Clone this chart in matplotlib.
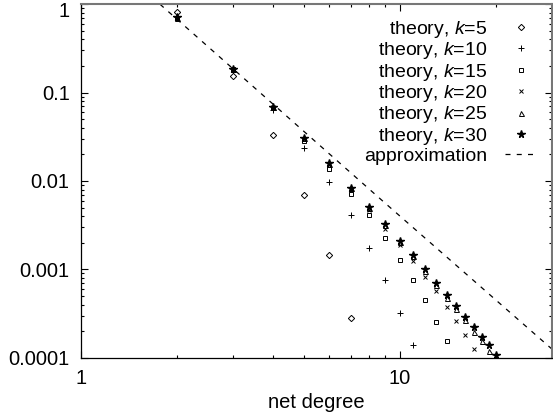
import matplotlib
matplotlib.use("Agg")
import matplotlib.pyplot as plt
import matplotlib.transforms as mtransforms
from matplotlib.ticker import LogLocator, NullFormatter, FixedLocator, FixedFormatter

plt.rcParams["font.family"] = ["Liberation Sans", "DejaVu Sans"]
plt.rcParams["mathtext.fontset"] = "custom"
plt.rcParams["mathtext.rm"] = "Liberation Sans"
plt.rcParams["mathtext.it"] = "Liberation Sans:italic"

# values (net degree -> probability)
k5_x = [2, 3, 4, 5, 6, 7]
k5_y = [0.81, 0.156, 0.033, 0.0070, 0.00144, 0.00028]
k10_x = [2, 3, 4, 5, 6, 7, 8, 9, 10, 11]
k10_y = [0.71, 0.183, 0.063, 0.0237, 0.0097, 0.0041, 0.00173, 0.00075, 0.00032, 0.00014]
k15_x = [2, 3, 4, 5, 6, 7, 8, 9, 10, 11, 12, 13, 14]
k15_y = [0.70, 0.185, 0.067, 0.028, 0.0135, 0.0071, 0.0041, 0.00224, 0.00127,
         0.00075, 0.00045, 0.000255, 0.000153]
k20_x = [2, 3, 4, 5, 6, 7, 8, 9, 10, 11, 12, 13, 14, 15, 16, 17]
k20_y = [0.70, 0.185, 0.068, 0.030, 0.0150, 0.0079, 0.0047, 0.0029, 0.0019, 0.00125,
         0.00082, 0.000566, 0.00038, 0.00026, 0.00018, 0.000127]
k25_x = [2, 3, 4, 5, 6, 7, 8, 9, 10, 11, 12, 13, 14, 15, 16, 17, 18, 19]
k25_y = [0.70, 0.185, 0.068, 0.031, 0.0156, 0.0083, 0.0050, 0.0032, 0.00205, 0.0014,
         0.00095, 0.00067, 0.00048, 0.00036, 0.00027, 0.000195, 0.000154, 0.000118]
k30_x = [2, 3, 4, 5, 6, 7, 8, 9, 10, 11, 12, 13, 14, 15, 16, 17, 18, 19, 20]
k30_y = [0.71, 0.186, 0.068, 0.031, 0.0158, 0.0084, 0.0051, 0.00325, 0.0021, 0.00145,
         0.0010, 0.000705, 0.00051, 0.000385, 0.00029, 0.000224, 0.000174, 0.00014, 0.000108]
approx_x = [1.77, 8.76, 30]
approx_y = [1.0, 0.00607, 0.000124]

fig = plt.figure(figsize=(5.53, 4.17), dpi=100)
ax = fig.add_axes([0.146, 0.142, 0.853, 0.848])

style = dict(ls="none", color="black", mfc="none", mew=0.7)
ax.plot(k5_x, k5_y, marker="D", ms=3.2, label="theory, $k$=5", **style)
ax.plot(k10_x, k10_y, marker="+", ms=4.5, label="theory, $k$=10", **style)
ax.plot(k15_x, k15_y, marker="s", ms=3.2, label="theory, $k$=15", **style)
ax.plot(k20_x, k20_y, marker="x", ms=3.5, label="theory, $k$=20", **style)
ax.plot(k25_x, k25_y, marker="^", ms=3.6, label="theory, $k$=25", **style)
ax.plot(k30_x, k30_y, ls="none", color="black", marker="*", ms=5.5,
        label="theory, $k$=30")
ax.plot(approx_x, approx_y, color="black", ls=(0, (4, 5)), lw=0.9,
        label="approximation")

ax.set_xscale("log")
ax.set_yscale("log")
ax.set_xlim(1, 30)
ax.set_ylim(0.0001, 1)

ax.xaxis.set_major_locator(FixedLocator([1, 10]))
ax.xaxis.set_major_formatter(FixedFormatter(["1", "10"]))
ax.xaxis.set_minor_locator(LogLocator(base=10, subs=range(2, 10)))
ax.xaxis.set_minor_formatter(NullFormatter())
ax.yaxis.set_major_locator(FixedLocator([0.0001, 0.001, 0.01, 0.1, 1]))
ax.yaxis.set_major_formatter(FixedFormatter(["0.0001", "0.001", "0.01", "0.1", "1"]))
ax.yaxis.set_minor_locator(LogLocator(base=10, subs=range(2, 10)))
ax.yaxis.set_minor_formatter(NullFormatter())

ax.tick_params(which="both", direction="in", top=True, right=True,
               labelsize=14.5, width=0.8, pad=8)
ax.tick_params(which="major", length=5)
ax.tick_params(which="minor", length=2.5)

# keep the top "1" label inside the figure
fig.canvas.draw()
top_label = ax.get_yticklabels()[-1]
top_label.set_transform(top_label.get_transform()
                        + mtransforms.ScaledTranslation(0, -5 / 100, fig.dpi_scale_trans))

for side in ["left", "bottom"]:
    ax.spines[side].set_linewidth(0.9)
for side in ["top", "right"]:
    ax.spines[side].set_color("#777777")
    ax.spines[side].set_linewidth(1.5)

ax.set_xlabel("net degree", fontsize=14.5, labelpad=4)

ax.legend(loc="upper right", frameon=False, fontsize=14, markerfirst=False,
          handlelength=1.7, handletextpad=0.9, labelspacing=0.02,
          borderaxespad=0.45, borderpad=0.3, numpoints=1)

fig.savefig("out.png", dpi=100)
